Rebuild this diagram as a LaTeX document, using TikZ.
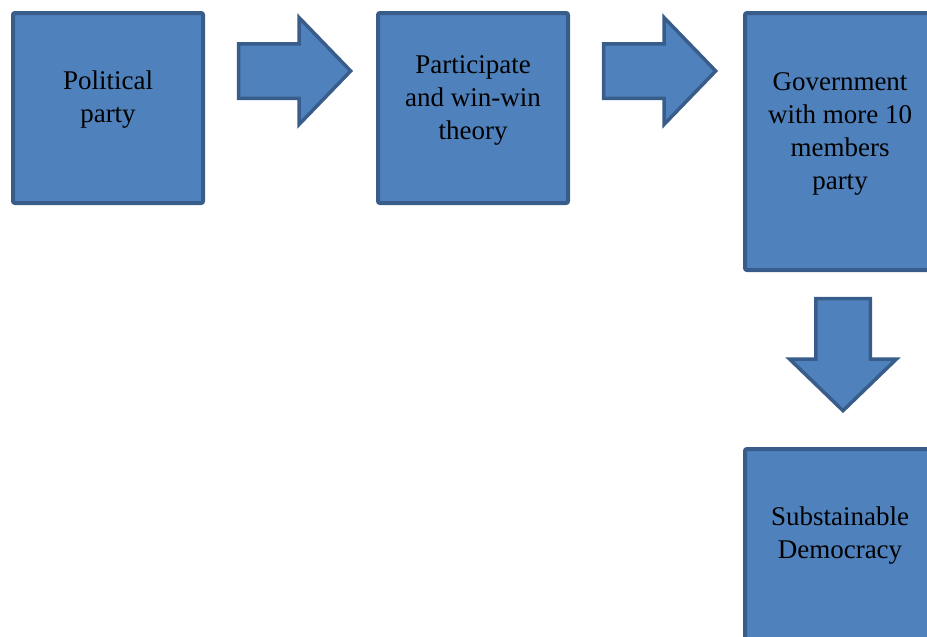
\documentclass[tikz,border=0pt]{standalone}
\usepackage{fontspec}
\setmainfont{Liberation Serif}
\usetikzlibrary{positioning, calc, shapes.arrows}

\definecolor{boxfill}{HTML}{4F81BD}
\definecolor{boxline}{HTML}{385D8A}

\tikzset{
  stagebox/.style={draw=boxline, fill=boxfill, line width=4pt, rounded corners=2pt,
    minimum width=190pt, minimum height=190pt, inner sep=0pt},
  stagetext/.style={align=center, font=\fontsize{27}{33}\selectfont, text=black},
  flowarrow/.style={single arrow, draw=boxline, fill=boxfill, line width=3.5pt,
    inner xsep=0pt, inner ysep=25.5pt, single arrow head extend=26pt,
    single arrow tip angle=92, minimum height=112pt}
}

\begin{document}
\begin{tikzpicture}[x=1pt, y=-1pt]
  \useasboundingbox (0,0) rectangle (927,637);
  \clip (0,0) rectangle (927,637);

  \node[stagebox] (party) at (108,108) {};
  \node[stagebox, right=171pt of party] (theory) {};
  \node[stagebox, minimum height=257pt, right=173pt of theory.north east, anchor=north west] (gov) {};
  \node[stagebox, below=175pt of gov] (democracy) {};

  \node[stagetext] (partylabel) at ([yshift=8pt]party.center) {Political\\party};
  \node[stagetext] (theorylabel) at ([yshift=8pt]theory.center) {Participate\\and win-win\\theory};
  \node[stagetext] (govlabel) at ([yshift=8pt]gov.center) {Government\\with more 10\\members\\party};
  \node[stagetext] (democracylabel) at ([yshift=8pt]democracy.center) {Substainable\\Democracy};

  \node[flowarrow] (arrowA) at ($(party.north east)!0.5!(theory.north west) + (-9,60)$) {};
  \node[flowarrow] (arrowB) at ($(theory.north east)!0.5!(gov.north west) + (-10,60)$) {};
  \node[flowarrow, rotate=-90] (arrowC) at ($(gov.south)!0.5!(democracy.north) + (3,-18)$) {};

\end{tikzpicture}
\end{document}
